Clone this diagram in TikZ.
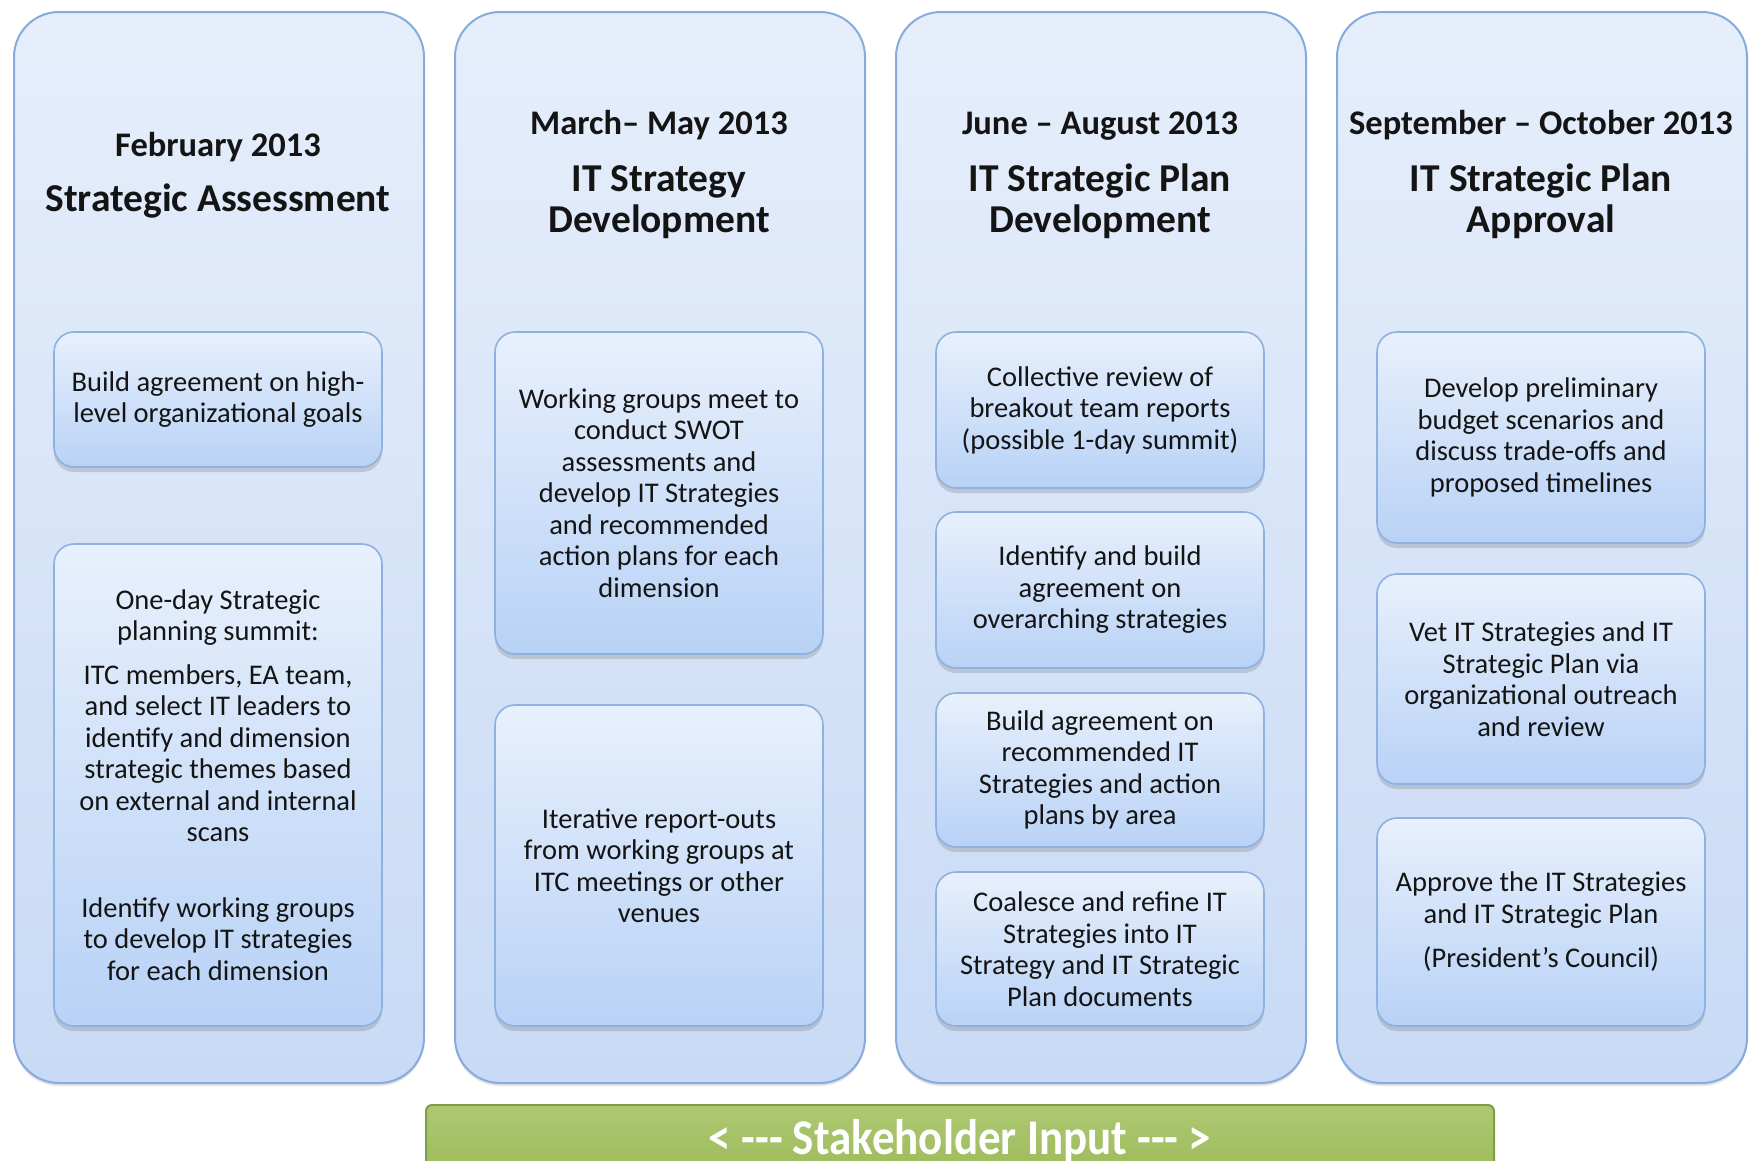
\documentclass[tikz,border=0pt]{standalone}
\usepackage{fontspec}
\setmainfont{Carlito}
\usetikzlibrary{shadows}
\definecolor{colTop}{HTML}{E6EEFB}
\definecolor{colBot}{HTML}{C8DAF5}
\definecolor{colBorder}{HTML}{86ABDC}
\definecolor{boxTop}{HTML}{E8F0FC}
\definecolor{boxBot}{HTML}{B8D2F6}
\definecolor{boxBorder}{HTML}{8EB1DF}
\definecolor{barTop}{HTML}{AEC873}
\definecolor{barBot}{HTML}{9BBB59}
\definecolor{barBorder}{HTML}{7F9F45}
\definecolor{txt}{HTML}{141414}
\tikzset{
  column/.style={draw=colBorder, line width=2pt, rounded corners=45pt,
    top color=colTop, bottom color=colBot, minimum width=410pt,
    minimum height=1071pt, inner sep=0pt, anchor=north west,
    drop shadow={opacity=0.22, shadow xshift=0pt, shadow yshift=-3pt}},
  stepbox/.style={draw=boxBorder, line width=1.6pt, rounded corners=20pt,
    top color=boxTop, bottom color=boxBot, minimum width=328pt,
    inner sep=0pt, align=center, text=txt,
    font=\fontsize{28.5}{31.5}\selectfont,
    drop shadow={opacity=0.3, shadow xshift=0pt, shadow yshift=-5pt}},
  datetxt/.style={anchor=base, font=\bfseries\fontsize{34.5}{40}\selectfont, text=txt},
  titletxt/.style={anchor=base, font=\bfseries\fontsize{39.5}{45}\selectfont, text=txt},
  bar/.style={draw=barBorder, line width=2pt, rounded corners=6pt,
    top color=barTop, bottom color=barBot, minimum width=1068pt,
    minimum height=72pt, inner sep=0pt, anchor=north west, text=white,
    font=\bfseries\fontsize{50}{56}\selectfont}
}
\begin{document}
\begin{tikzpicture}[x=1pt,y=-1pt]
\useasboundingbox (0,0) rectangle (1752,1160);
\fill[white] (0,0) rectangle (1752,1160);
% columns
\node[column] (c1) at (13,11) {};
\node[column] (c2) at (454,11) {};
\node[column] (c3) at (895,11) {};
\node[column] (c4) at (1336,11) {};
% headings
\node[datetxt] (d1) at (218,156) {February 2013};
\node[titletxt] (t1) at (218,211) {Strategic Assessment};
\node[datetxt] (d2) at (659,134) {March– May 2013};
\node[titletxt] (t2a) at (659,191) {IT Strategy};
\node[titletxt] (t2b) at (659,232) {Development};
\node[datetxt] (d3) at (1100,134) {June – August 2013};
\node[titletxt] (t3a) at (1100,191) {IT Strategic Plan};
\node[titletxt] (t3b) at (1100,232) {Development};
\node[datetxt] (d4) at (1541,134) {September – October 2013};
\node[titletxt] (t4a) at (1541,191) {IT Strategic Plan};
\node[titletxt] (t4b) at (1541,232) {Approval};
% column 1
\node[stepbox, minimum height=135pt] (b11) at (218,399.5)
  {Build agreement on high-\\level organizational goals};
\node[stepbox, minimum height=482pt] (b12) at (218,785)
  {One-day Strategic\\planning summit:\\[12pt]
   ITC members, EA team,\\and select IT leaders to\\identify and dimension\\strategic themes based\\on external and internal\\scans\\[44pt]
   Identify working groups\\to develop IT strategies\\for each dimension};
% column 2
\node[stepbox, minimum height=322pt] (b21) at (659,493)
  {Working groups meet to\\conduct SWOT\\assessments and\\develop IT Strategies\\and recommended\\action plans for each\\dimension};
\node[stepbox, minimum height=321pt] (b22) at (659,865.5)
  {Iterative report-outs\\from working groups at\\ITC meetings or other\\venues};
% column 3
\node[stepbox, minimum height=156pt] (b31) at (1100,410)
  {Collective review of\\breakout team reports\\(possible 1-day summit)};
\node[stepbox, minimum height=156pt] (b32) at (1100,590)
  {Identify and build\\agreement on\\overarching strategies};
\node[stepbox, minimum height=154pt] (b33) at (1100,770)
  {Build agreement on\\recommended IT\\Strategies and action\\plans by area};
\node[stepbox, minimum height=154pt] (b34) at (1100,949)
  {Coalesce and refine IT\\Strategies into IT\\Strategy and IT Strategic\\Plan documents};
% column 4
\node[stepbox, minimum height=211pt] (b41) at (1541,437.5)
  {Develop preliminary\\budget scenarios and\\discuss trade-offs and\\proposed timelines};
\node[stepbox, minimum height=210pt] (b42) at (1541,679)
  {Vet IT Strategies and IT\\Strategic Plan via\\organizational outreach\\and review};
\node[stepbox, minimum height=208pt] (b43) at (1541,922)
  {Approve the IT Strategies\\and IT Strategic Plan\\[13pt](President’s Council)};
% stakeholder bar
\node[bar] (sb) at (425,1104) {\raisebox{-4pt}{\scalebox{0.9}[1]{< -{}-{}- Stakeholder Input -{}-{}- >}}};
\end{tikzpicture}
\end{document}
